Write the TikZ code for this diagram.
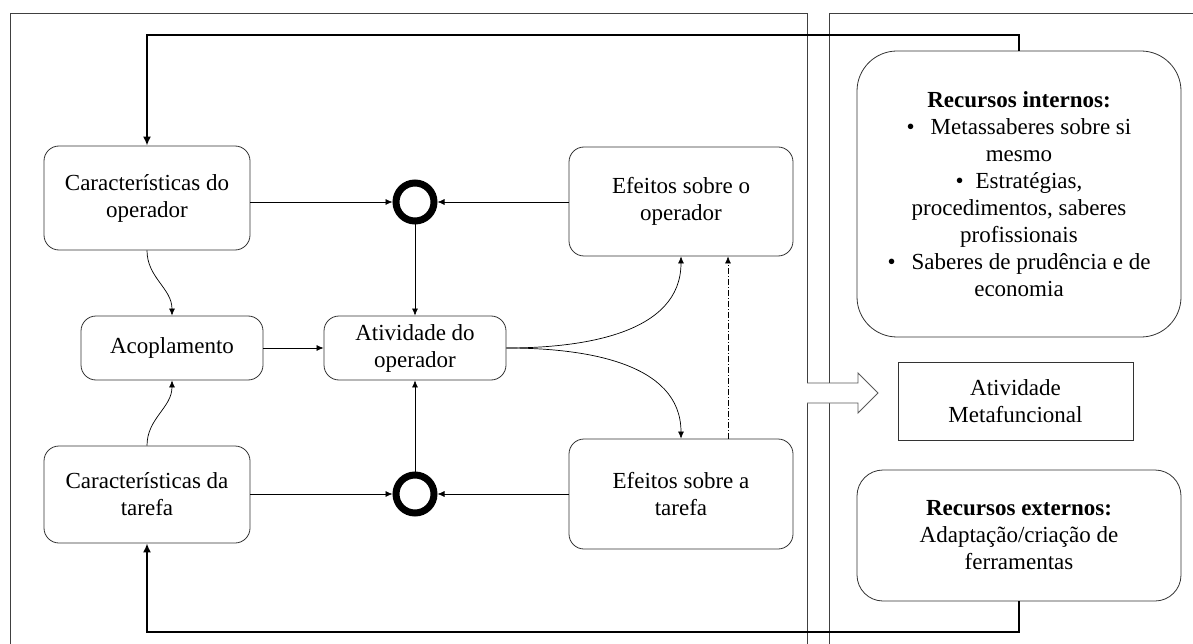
\documentclass[tikz,border=0pt]{standalone}
\usepackage{fontspec}
\setmainfont{Liberation Serif}
\usetikzlibrary{arrows.meta}
\begin{document}
\begin{tikzpicture}[x=1pt,y=-1pt,
  every node/.style={font=\fontsize{23}{27}\selectfont},
  rbox/.style={draw=black!80,line width=0.8pt,rounded corners=15pt,align=center,inner sep=0pt},
  bigbox/.style={rbox,rounded corners=40pt},
  junction/.style={circle,draw=black,line width=7pt,minimum size=38pt,inner sep=0pt},
  link/.style={line width=0.7pt,-{Latex[length=7pt,width=6pt]}},
  loop/.style={line width=2.6pt,-{Latex[length=9pt,width=8pt]}},
  panel/.style={draw=black!75,line width=0.9pt}
]
\useasboundingbox (0,0) rectangle (1193,644);

% the two panels
\draw[panel] (10,700) -- (10,13) -- (807,13) -- (807,700);
\draw[panel] (829,700) -- (829,13) -- (1230,13);

% left panel: operator / task model
\node[rbox,minimum width=206pt,minimum height=104pt] (co) at (147,198) {Características do\\operador};
\node[rbox,minimum width=206pt,minimum height=97pt] (ct) at (147,494.5) {Características da\\tarefa};
\node[rbox,minimum width=182pt,minimum height=64pt] (ac) at (172,348) {Acoplamento};
\node[rbox,minimum width=182pt,minimum height=64pt] (at) at (415,348) {Atividade do\\operador};
\node[rbox,minimum width=224pt,minimum height=109pt] (eo) at (681,201.5) {Efeitos sobre o\\operador};
\node[rbox,minimum width=224pt,minimum height=110pt] (et) at (681,494) {Efeitos sobre a\\tarefa};
\node[junction] (j1) at (415,202) {};
\node[junction] (j2) at (415,494) {};

\draw[link] (co.east |- j1) -- (j1);
\draw[link] (eo.west |- j1) -- (j1);
\draw[link] (j1) -- (at);
\draw[link] (ct.east |- j2) -- (j2);
\draw[link] (et.west |- j2) -- (j2);
\draw[link] (j2) -- (at);
\draw[link] (ac) -- (at);
\draw[link] (at.east) to[out=0,in=-90] (eo.south);
\draw[link] (at.east) to[out=0,in=90] (et.north);
\draw[link,dash pattern=on 6pt off 2pt on 1pt off 2pt] (et.north -| 728,0) -- (eo.south -| 728,0);
\draw[link] (co.south) to[out=-90,in=90] (ac.north);
\draw[link] (ct.north) to[out=90,in=-90] (ac.south);

% right panel: resources and metafunctional activity
\node[bigbox,minimum width=324pt,minimum height=286pt] (ri) at (1019,194) {%
  \textbf{Recursos internos:}\\
  •\hspace{16pt}Metassaberes sobre si\\
  mesmo\\
  •\hspace{12pt}Estratégias,\\
  procedimentos, saberes\\
  profissionais\\
  •\hspace{16pt}Saberes de prudência e de\\
  economia};
\node[draw=black!80,line width=0.8pt,minimum width=235pt,minimum height=78pt,align=center,inner sep=0pt] (am) at (1015.5,401) {Atividade\\Metafuncional};
\node[rbox,rounded corners=26pt,minimum width=324pt,minimum height=131pt] (re) at (1019,535.5) {%
  \textbf{Recursos externos:}\\
  Adaptação/criação de\\
  ferramentas};

% feedback loops back to the operator and task characteristics
\draw[loop] (ri.north) -- (ri.north |- 0,35) -- (co.north |- 0,35) -- (co.north);
\draw[loop] (re.south) -- (re.south |- 0,632) -- (ct.south |- 0,632) -- (ct.south);

% block arrow between the panels
\coordinate (ba) at (807,393);
\draw[draw=black!65,fill=white,line width=0.9pt]
  (ba) ++(0,-10) -- ++(51,0) -- ++(0,-10) -- (878,393) -- (858,413) -- ++(0,-10) -- ++(-51,0);
\end{tikzpicture}
\end{document}
